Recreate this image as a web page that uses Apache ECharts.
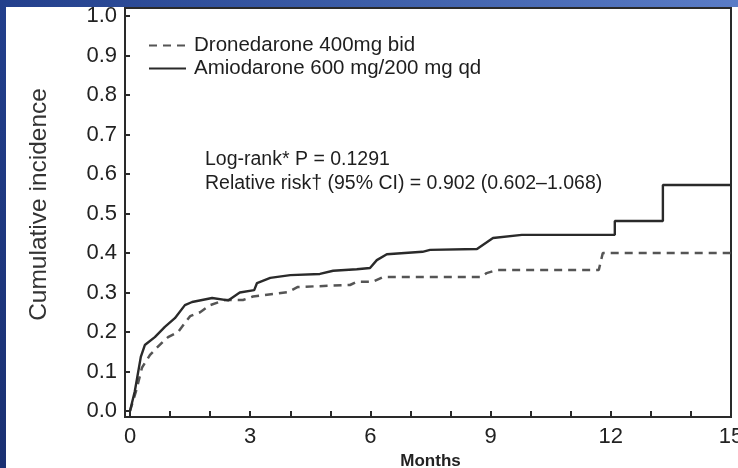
<!DOCTYPE html>
<html>
<head>
<meta charset="utf-8">
<script src="https://cdn.jsdelivr.net/npm/echarts@6/dist/echarts.min.js"></script>
<style>
  html, body { margin: 0; padding: 0; background: #ffffff; }
  #chart { position: absolute; left: 0; top: 0; width: 738px; height: 468px; }
  .band-top { position: absolute; left: 0; top: 0; width: 738px; height: 7px;
    background: linear-gradient(to right, #223f8c, #3d5ea8 50%, #5a7cc6); }
  .band-left { position: absolute; left: 0; top: 0; width: 6px; height: 468px;
    background: linear-gradient(to bottom, #223f8c, #1a3072); }
</style>
</head>
<body>
<div id="chart"></div>
<div class="band-top"></div>
<div class="band-left"></div>
<script>
// Cumulative incidence curves (months vs. proportion)
const dronedaroneMonths = [0, 0.15, 0.3, 0.5, 0.67, 0.82, 0.95, 1.2, 1.37, 1.5, 1.75, 2.0, 2.37, 2.82, 3.07, 3.94, 4.19, 5.49, 5.66, 6.06, 6.31, 8.75, 8.9, 9.16, 11.7, 11.8, 15];
const dronedaroneValues = [0, 0.05, 0.11, 0.142, 0.16, 0.175, 0.187, 0.2, 0.223, 0.24, 0.25, 0.268, 0.281, 0.281, 0.29, 0.301, 0.314, 0.319, 0.327, 0.327, 0.339, 0.339, 0.349, 0.357, 0.357, 0.40, 0.40];

const amiodaroneMonths = [0, 0.12, 0.27, 0.37, 0.62, 0.87, 1.12, 1.37, 1.55, 2.05, 2.45, 2.74, 3.1, 3.17, 3.5, 4.0, 4.74, 5.07, 5.66, 5.99, 6.16, 6.41, 7.3, 7.49, 8.66, 9.06, 9.78, 12.1, 12.1, 13.3, 13.3, 15];
const amiodaroneValues = [0, 0.05, 0.137, 0.167, 0.187, 0.213, 0.235, 0.268, 0.276, 0.286, 0.28, 0.30, 0.306, 0.324, 0.337, 0.344, 0.347, 0.355, 0.359, 0.362, 0.382, 0.397, 0.403, 0.408, 0.41, 0.438, 0.446, 0.446, 0.481, 0.481, 0.572, 0.572];

const seriesNames = ['Dronedarone 400mg bid', 'Amiodarone 600 mg/200 mg qd'];
const xTicks = [0, 3, 6, 9, 12, 15];
const yTicks = [0, 0.1, 0.2, 0.3, 0.4, 0.5, 0.6, 0.7, 0.8, 0.9, 1.0];
const statLines = ['Log-rank* P = 0.1291', 'Relative risk\u2020 (95% CI) = 0.902 (0.602\u20131.068)'];

const FONT = '"Liberation Sans", Arial, Helvetica, sans-serif';
const pairs = (xs, ys) => xs.map((x, i) => [x, ys[i]]);

const chart = echarts.init(document.getElementById('chart'), null, { renderer: 'canvas' });

chart.setOption({
  backgroundColor: '#ffffff',
  animation: false,
  grid: [
    { left: 130, right: 7, top: 16, bottom: 57, containLabel: false, outerBoundsMode: 'none' },
    { left: 125, right: 7, top: 8, bottom: 51, containLabel: false, outerBoundsMode: 'none',
      show: true, borderColor: '#2a2a2a', borderWidth: 2, backgroundColor: 'transparent' }
  ],
  legend: {
    orient: 'vertical',
    left: 148,
    top: 35,
    padding: 0,
    itemWidth: 37,
    itemHeight: 14,
    itemGap: 2,
    itemStyle: { color: 'transparent', borderColor: 'transparent', borderWidth: 0, opacity: 0 },
    textStyle: { fontFamily: FONT, fontSize: 20.5, color: '#1e1e1e', padding: [0, 0, 0, 3] },
    data: seriesNames
  },
  xAxis: [
    {
      type: 'value', gridIndex: 0, min: 0, max: 15, interval: 3, offset: 6,
      name: 'Months', nameLocation: 'middle', nameGap: 35,
      nameTextStyle: { fontFamily: FONT, fontSize: 17, fontWeight: 'bold', color: '#222' },
      axisLine: { show: false },
      axisTick: { show: true, length: 6, lineStyle: { color: '#2a2a2a', width: 2 } },
      minorTick: { show: true, splitNumber: 3, length: 6, lineStyle: { color: '#2a2a2a', width: 2 } },
      splitLine: { show: false },
      axisLabel: { fontFamily: FONT, fontSize: 22, color: '#222', margin: 9,
        formatter: v => xTicks.includes(v) ? String(v) : '' }
    },
    { type: 'value', gridIndex: 1, show: false, min: 0, max: 1 }
  ],
  yAxis: [
    {
      type: 'value', gridIndex: 0, min: 0, max: 1, interval: 0.1, offset: 5,
      axisLine: { show: false },
      axisTick: { show: true, length: 5, lineStyle: { color: '#2a2a2a', width: 2 } },
      splitLine: { show: false },
      axisLabel: { fontFamily: FONT, fontSize: 22, color: '#222', margin: 8,
        formatter: v => yTicks.some(t => Math.abs(t - v) < 1e-9) ? v.toFixed(1) : '' }
    },
    { type: 'value', gridIndex: 1, show: false, min: 0, max: 1 }
  ],
  graphic: [
    {
      type: 'text', left: 27, top: 88, rotation: Math.PI / 2,
      style: { text: 'Cumulative incidence', fontFamily: FONT, fontSize: 24.5, fill: '#333' }
    },
    {
      type: 'text', left: 205, top: 150,
      style: { text: statLines[0], fontFamily: FONT, fontSize: 19.5, fill: '#1e1e1e' }
    },
    {
      type: 'text', left: 205, top: 174,
      style: { text: statLines[1], fontFamily: FONT, fontSize: 19.5, fill: '#1e1e1e' }
    }
  ],
  series: [
    {
      name: seriesNames[0], type: 'line', xAxisIndex: 0, yAxisIndex: 0,
      data: pairs(dronedaroneMonths, dronedaroneValues),
      symbol: 'none', showSymbol: false, smooth: false,
      lineStyle: { color: '#555', width: 2.5, type: [8, 6] },
      itemStyle: { color: '#555' }
    },
    {
      name: seriesNames[1], type: 'line', xAxisIndex: 0, yAxisIndex: 0,
      data: pairs(amiodaroneMonths, amiodaroneValues),
      symbol: 'none', showSymbol: false, smooth: false,
      lineStyle: { color: '#2a2a2a', width: 2.4 },
      itemStyle: { color: '#2a2a2a' }
    }
  ]
});
</script>
</body>
</html>
